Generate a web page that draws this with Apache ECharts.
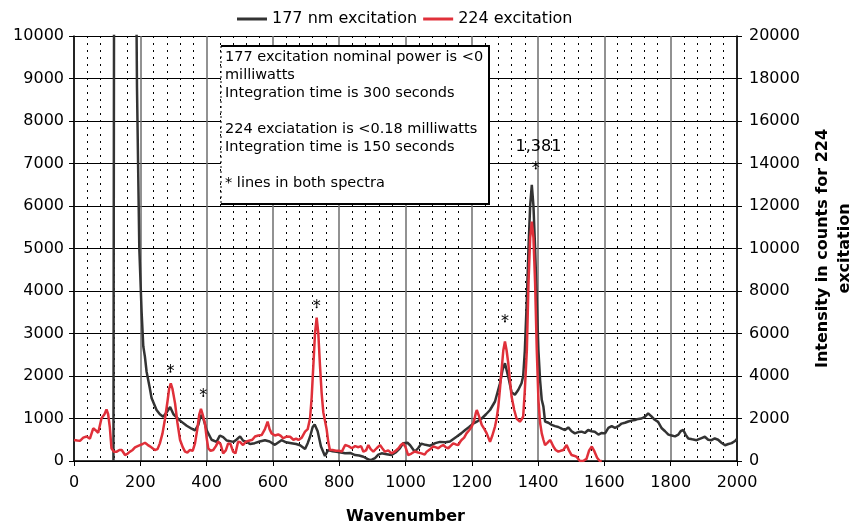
<!DOCTYPE html>
<html>
<head>
<meta charset="utf-8">
<script src="https://cdn.jsdelivr.net/npm/echarts@6/dist/echarts.min.js"></script>
<style>
  html, body { margin: 0; padding: 0; background: #fff; }
  #chart { width: 851px; height: 529px; }
</style>
</head>
<body>
<div id="chart"></div>
<script>
// 177 nm excitation (left axis), wavenumber / counts
var blackX = [119, 121, 125, 150, 180, 186, 190, 197, 204, 209, 214, 219, 229, 234, 249, 259, 269, 280, 290, 300, 320, 340, 355, 365, 375, 382, 390, 400, 415, 430, 440, 450, 461, 481, 490, 501, 510, 521, 531, 545, 560, 576, 590, 606, 626, 640, 656, 670, 682, 697, 705, 712, 720, 726, 735, 745, 757, 767, 780, 792, 805, 818, 833, 848, 860, 873, 885, 893, 900, 908, 918, 928, 943, 958, 970, 983, 993, 998, 1006, 1014, 1028, 1038, 1048, 1060, 1074, 1090, 1104, 1120, 1134, 1154, 1168, 1180, 1192, 1204, 1218, 1230, 1243, 1255, 1270, 1285, 1293, 1300, 1310, 1320, 1330, 1340, 1350, 1355, 1360, 1366, 1371, 1376, 1381, 1386, 1391, 1396, 1401, 1406, 1411, 1416, 1421, 1431, 1441, 1451, 1461, 1471, 1481, 1491, 1501, 1511, 1521, 1531, 1541, 1551, 1561, 1571, 1582, 1592, 1602, 1612, 1622, 1632, 1642, 1652, 1662, 1672, 1682, 1692, 1702, 1712, 1722, 1732, 1742, 1752, 1762, 1773, 1783, 1793, 1803, 1813, 1823, 1830, 1838, 1845, 1853, 1865, 1878, 1893, 1903, 1913, 1923, 1933, 1943, 1953, 1964, 1974, 1984, 1994, 2000];
var blackY = [0, 12000, 30000, 40000, 25000, 13000, 8800, 5000, 3500, 2700, 2450, 2100, 1700, 1480, 1200, 1100, 1040, 1150, 1270, 1100, 950, 830, 760, 720, 850, 1080, 1000, 730, 500, 450, 600, 560, 480, 450, 500, 580, 480, 450, 400, 420, 460, 490, 460, 380, 490, 440, 420, 400, 370, 280, 420, 570, 800, 860, 700, 340, 120, 260, 230, 220, 200, 180, 190, 140, 130, 100, 50, 20, 40, 70, 150, 180, 160, 140, 200, 300, 420, 460, 430, 370, 220, 300, 410, 380, 360, 420, 450, 440, 460, 570, 650, 730, 800, 880, 940, 1000, 1100, 1200, 1400, 1830, 2150, 2300, 1980, 1620, 1560, 1670, 1830, 2000, 2600, 3800, 5000, 6000, 6500, 6000, 5000, 3800, 2600, 1900, 1440, 1280, 930, 900, 850, 820, 800, 760, 730, 790, 700, 650, 680, 690, 660, 730, 700, 690, 620, 660, 650, 780, 820, 780, 820, 880, 900, 930, 950, 965, 990, 1000, 1040, 1120, 1050, 970, 920, 770, 700, 620, 600, 580, 620, 700, 730, 620, 530, 510, 490, 540, 570, 500, 490, 530, 500, 430, 370, 400, 420, 470, 520];

// 224 excitation (right axis)
var redX = [0, 10, 18, 28, 38, 48, 58, 65, 73, 83, 92, 98, 103, 108, 113, 120, 129, 137, 144, 154, 162, 169, 177, 184, 192, 199, 207, 214, 222, 229, 237, 244, 252, 259, 267, 274, 282, 287, 292, 297, 305, 312, 320, 328, 335, 342, 350, 358, 365, 372, 378, 383, 388, 395, 400, 405, 412, 420, 428, 435, 442, 450, 458, 465, 472, 480, 487, 495, 502, 510, 518, 525, 531, 538, 546, 556, 566, 576, 584, 590, 596, 606, 616, 624, 631, 641, 652, 662, 670, 677, 687, 697, 705, 712, 717, 722, 727, 732, 737, 742, 747, 752, 757, 762, 767, 772, 780, 790, 800, 808, 818, 828, 838, 848, 858, 866, 873, 881, 888, 895, 903, 913, 923, 930, 938, 948, 958, 968, 979, 986, 993, 1000, 1008, 1018, 1028, 1038, 1048, 1058, 1064, 1074, 1084, 1092, 1099, 1107, 1114, 1122, 1129, 1137, 1144, 1152, 1159, 1164, 1169, 1177, 1184, 1192, 1200, 1207, 1212, 1215, 1222, 1230, 1238, 1245, 1250, 1255, 1262, 1270, 1275, 1280, 1285, 1290, 1295, 1300, 1305, 1310, 1315, 1320, 1328, 1335, 1345, 1350, 1355, 1360, 1366, 1371, 1376, 1381, 1386, 1391, 1396, 1401, 1406, 1411, 1416, 1421, 1428, 1436, 1441, 1446, 1453, 1461, 1468, 1476, 1486, 1493, 1501, 1508, 1516, 1526, 1536, 1546, 1554, 1562, 1570, 1578, 1586, 1592];
var redY = [990, 960, 950, 1100, 1150, 1050, 1540, 1450, 1330, 2010, 2200, 2430, 2200, 1600, 600, 440, 440, 520, 520, 280, 350, 440, 520, 640, 700, 750, 800, 860, 760, 690, 600, 520, 560, 830, 1300, 1930, 2800, 3400, 3650, 3400, 2700, 1800, 990, 650, 440, 400, 520, 480, 830, 1500, 2200, 2450, 2200, 1770, 1100, 600, 480, 520, 700, 910, 800, 360, 500, 830, 800, 440, 360, 910, 880, 750, 900, 940, 990, 1000, 1150, 1200, 1220, 1500, 1850, 1500, 1300, 1200, 1250, 1180, 1070, 1150, 1140, 1000, 1050, 990, 1100, 1380, 1500, 2000, 3000, 4500, 6000, 6750, 6000, 4500, 3200, 2300, 1900, 1500, 900, 520, 520, 480, 480, 440, 750, 700, 600, 700, 650, 700, 440, 500, 750, 560, 440, 600, 750, 600, 440, 500, 360, 450, 600, 750, 830, 650, 280, 350, 450, 400, 360, 300, 440, 550, 680, 640, 600, 700, 750, 640, 600, 720, 830, 780, 750, 880, 990, 1100, 1300, 1450, 1620, 1900, 2250, 2400, 2100, 1700, 1500, 1300, 1100, 900, 1200, 1620, 2000, 2560, 3400, 4300, 5200, 5620, 5200, 4600, 3800, 3030, 2400, 2000, 1850, 1950, 2100, 3340, 5200, 8360, 10500, 11260, 10500, 8360, 5220, 2870, 1800, 1300, 1000, 750, 850, 990, 850, 680, 520, 440, 480, 520, 750, 500, 280, 250, 200, 0, 0, 100, 500, 680, 450, 150, 0, 0];

// peak markers (left axis units)
var noteX = [291, 390, 732, 1300, 1393, 1401];
var noteY = [2100, 1530, 3620, 3280, 6880, 7396];
var noteText = ['*', '*', '*', '*', '*', '1,381'];

var boxLines = [
  '177 excitation nominal power is <0',
  'milliwatts',
  'Integration time is 300 seconds',
  '',
  '224 exciatation is <0.18 milliwatts',
  'Integration time is 150 seconds',
  '',
  '* lines in both spectra'
];

function pairs (xs, ys) {
  return xs.map(function (x, i) { return [x, ys[i]] })
}

var font = 'DejaVu Sans'
var chart = echarts.init(document.getElementById('chart'))
chart.setOption({
  animation: false,
  textStyle: { fontFamily: font },
  grid: { left: 74, right: 114, top: 36, bottom: 68, outerBoundsMode: 'none', containLabel: false },
  legend: {
    data: ['177 nm excitation', '224 excitation'],
    left: 232,
    top: 6,
    icon: 'rect',
    itemWidth: 30,
    itemHeight: 3,
    itemGap: 6,
    textStyle: { fontFamily: font, fontSize: 16, color: '#000' }
  },
  xAxis: {
    type: 'value',
    min: 0,
    max: 2000,
    interval: 200,
    name: 'Wavenumber',
    nameLocation: 'middle',
    nameGap: 48,
    nameTextStyle: { fontFamily: font, fontSize: 16, fontWeight: 'bold', color: '#000' },
    axisLine: { show: true, lineStyle: { color: '#000', width: 1.5 } },
    axisTick: { show: true, length: 5, lineStyle: { color: '#000' } },
    axisLabel: { fontFamily: font, fontSize: 16, color: '#000', margin: 14, formatter: function (v) { return String(v) } },
    splitLine: { show: true, lineStyle: { color: '#6e6e6e', width: 1.5 } },
    minorTick: { show: false, splitNumber: 5 },
    minorSplitLine: { show: true, lineStyle: { color: '#000', width: 1, type: [2, 5] } }
  },
  yAxis: [
    {
      type: 'value',
      min: 0,
      max: 10000,
      interval: 1000,
      axisLine: { show: true, lineStyle: { color: '#000', width: 1.5 } },
      axisTick: { show: true, length: 5, lineStyle: { color: '#000' } },
      axisLabel: { fontFamily: font, fontSize: 16, color: '#000', margin: 10, formatter: function (v) { return String(v) } },
      splitLine: { show: true, lineStyle: { color: '#000', width: 1 } }
    },
    {
      type: 'value',
      position: 'right',
      min: 0,
      max: 20000,
      interval: 2000,
      name: 'Intensity in counts for 224\nexcitation',
      nameLocation: 'middle',
      nameRotate: 90,
      nameGap: 75,
      nameTextStyle: { fontFamily: font, fontSize: 16, fontWeight: 'bold', color: '#000', lineHeight: 22 },
      axisLine: { show: true, lineStyle: { color: '#000', width: 1.5 } },
      axisTick: { show: true, length: 5, lineStyle: { color: '#000' } },
      axisLabel: { fontFamily: font, fontSize: 16, color: '#000', margin: 12, formatter: function (v) { return String(v) } },
      splitLine: { show: false }
    }
  ],
  graphic: [
    { type: 'rect', z: 100, shape: { x: 221, y: 46, width: 268, height: 158 }, style: { fill: '#fff' } },
    { type: 'polyline', z: 101, shape: { points: [[221, 46], [489, 46], [489, 204], [221, 204]] }, style: { stroke: '#000', lineWidth: 2, fill: null } },
    { type: 'line', z: 101, shape: { x1: 221, y1: 46, x2: 221, y2: 204 }, style: { stroke: '#000', lineWidth: 1, lineDash: [2, 3] } },
    {
      type: 'text',
      z: 102,
      x: 225,
      y: 48,
      style: {
        text: boxLines.join('\n'),
        font: '14.5px "DejaVu Sans"',
        fill: '#000',
        lineHeight: 18,
        width: 262,
        overflow: 'truncate',
        ellipsis: ''
      }
    }
  ],
  series: [
    {
      name: '177 nm excitation',
      type: 'line',
      yAxisIndex: 0,
      symbol: 'none',
      data: pairs(blackX, blackY),
      lineStyle: { color: '#333', width: 2.5 },
      itemStyle: { color: '#333' }
    },
    {
      name: '224 excitation',
      type: 'line',
      yAxisIndex: 1,
      symbol: 'none',
      data: pairs(redX, redY),
      lineStyle: { color: '#e0303a', width: 2.5 },
      itemStyle: { color: '#e0303a' }
    },
    {
      name: 'notes',
      type: 'scatter',
      yAxisIndex: 0,
      z: 10,
      symbolSize: 2,
      itemStyle: { color: '#000', opacity: 1 },
      data: pairs(noteX, noteY),
      label: {
        show: true,
        position: 'inside',
        fontFamily: font,
        fontSize: 16,
        color: '#000',
        opacity: 1,
        textBorderWidth: 0,
        formatter: function (p) { return noteText[p.dataIndex] }
      }
    }
  ]
})
</script>
</body>
</html>
